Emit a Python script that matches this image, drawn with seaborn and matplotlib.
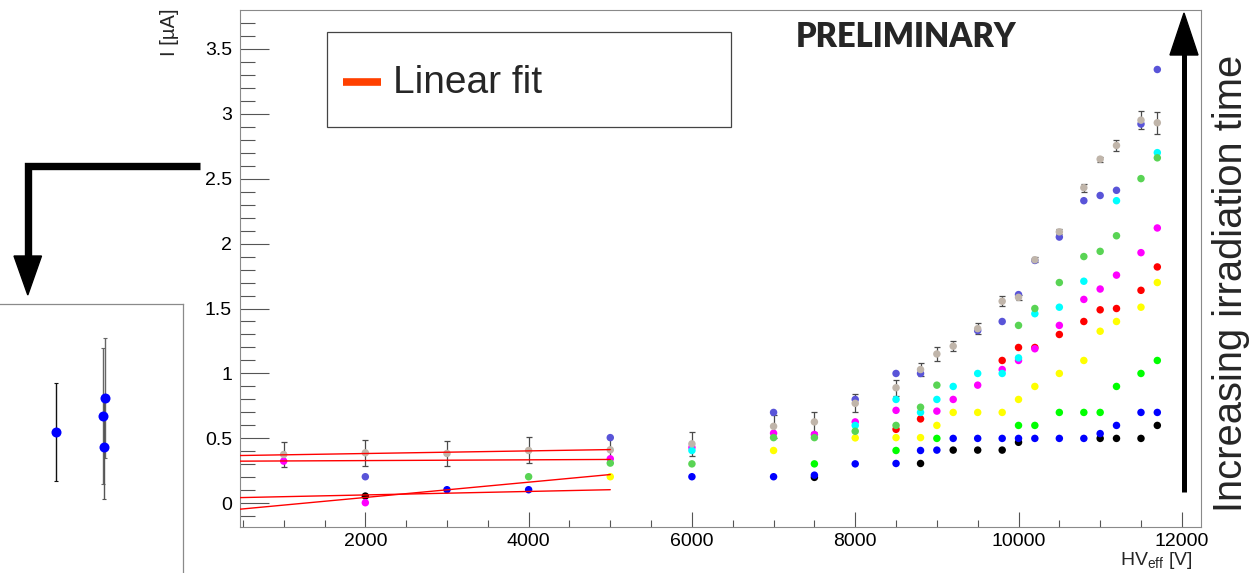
import numpy as np
import pandas as pd
import matplotlib
matplotlib.use("Agg")
import matplotlib.pyplot as plt
from matplotlib.lines import Line2D
from matplotlib.patches import Polygon, Rectangle
from matplotlib.ticker import MultipleLocator, FuncFormatter
import seaborn as sns

# ---------------- data: current vs effective HV for successive irradiation steps
hv_black = [2000, 7500, 8800, 9200, 9500, 9800, 10000, 11000, 11200, 11500, 11700]
i_black = [0.056, 0.20, 0.307, 0.41, 0.41, 0.41, 0.47, 0.50, 0.50, 0.50, 0.60]

hv_blue = [3000, 4000, 6000, 7000, 7500, 8000, 8500, 8800, 9000, 9200, 9500, 9800,
           10000, 10200, 10500, 10800, 11000, 11200, 11500, 11700]
i_blue = [0.105, 0.105, 0.205, 0.205, 0.217, 0.304, 0.307, 0.407, 0.41, 0.50, 0.50, 0.50,
          0.50, 0.50, 0.50, 0.50, 0.537, 0.60, 0.70, 0.70]

hv_green = [7500, 8500, 9000, 10000, 10200, 10500, 10800, 11000, 11200, 11500, 11700]
i_green = [0.304, 0.407, 0.50, 0.60, 0.60, 0.70, 0.70, 0.70, 0.90, 1.00, 1.10]

hv_yellow = [5000, 7000, 8000, 8500, 8800, 9000, 9200, 9500, 9800, 10000, 10200, 10500,
             10800, 11000, 11200, 11500, 11700]
i_yellow = [0.205, 0.407, 0.504, 0.506, 0.506, 0.60, 0.70, 0.70, 0.70, 0.80, 0.90, 1.00,
            1.10, 1.325, 1.40, 1.51, 1.70]

hv_red = [8500, 8800, 9800, 10000, 10200, 10500, 10800, 11000, 11200, 11500, 11700]
i_red = [0.57, 0.65, 1.10, 1.20, 1.20, 1.30, 1.40, 1.49, 1.50, 1.64, 1.82]

hv_magenta = [1000, 2000, 5000, 6000, 7000, 7500, 8000, 8500, 9000, 9200, 9500, 9800,
              10000, 10200, 10500, 10800, 11000, 11200, 11500, 11700]
i_magenta = [0.325, 0.005, 0.343, 0.43, 0.54, 0.53, 0.627, 0.716, 0.71, 0.80, 0.91, 1.03,
             1.10, 1.19, 1.37, 1.57, 1.65, 1.757, 1.93, 2.12]

hv_cyan = [6000, 8000, 8500, 8800, 9000, 9200, 9500, 9800, 10000, 10200, 10500, 10800,
           11200, 11700]
i_cyan = [0.407, 0.60, 0.80, 0.70, 0.80, 0.90, 1.00, 1.00, 1.12, 1.46, 1.51, 1.71,
          2.33, 2.70]

hv_lgreen = [4000, 5000, 6000, 7000, 7500, 8000, 8500, 8800, 9000, 10000, 10200, 10500,
             10800, 11000, 11200, 11500, 11700]
i_lgreen = [0.205, 0.31, 0.304, 0.506, 0.506, 0.555, 0.60, 0.74, 0.91, 1.37, 1.50, 1.70,
            1.90, 1.94, 2.06, 2.50, 2.66]

hv_slate = [2000, 5000, 7000, 8000, 8500, 8800, 9500, 9800, 10000, 10200, 10500, 10800,
            11000, 11200, 11500, 11700]
i_slate = [0.205, 0.506, 0.70, 0.80, 1.00, 1.00, 1.33, 1.40, 1.607, 1.87, 2.05, 2.33,
           2.37, 2.41, 2.92, 3.34]

hv_tan = [1000, 2000, 3000, 4000, 5000, 6000, 7000, 7500, 8000, 8500, 8800, 9000, 9200,
          9500, 9800, 10000, 10200, 10500, 10800, 11000, 11200, 11500, 11700]
i_tan = [0.376, 0.389, 0.384, 0.407, 0.412, 0.458, 0.593, 0.627, 0.77, 0.89, 1.03, 1.15, 1.21,
         1.345, 1.556, 1.586, 1.875, 2.09, 2.43, 2.65, 2.755, 2.95, 2.93]
err_tan = [0.096, 0.10, 0.093, 0.10, 0.10, 0.092, 0.09, 0.08, 0.07, 0.06, 0.047, 0.054, 0.04,
           0.045, 0.038, 0.02, 0.02, 0.02, 0.03, 0.02, 0.04, 0.07, 0.086]

step_names = ["step 1", "step 2", "step 3", "step 4", "step 5",
              "step 6", "step 7", "step 8", "step 9", "step 10"]
step_colors = ["#000000", "#0000ff", "#00ff00", "#ffff00", "#ff0000",
               "#ff00ff", "#00ffff", "#59d454", "#5954d8", "#c0b5aa"]
hv_lists = [hv_black, hv_blue, hv_green, hv_yellow, hv_red,
            hv_magenta, hv_cyan, hv_lgreen, hv_slate, hv_tan]
i_lists = [i_black, i_blue, i_green, i_yellow, i_red,
           i_magenta, i_cyan, i_lgreen, i_slate, i_tan]

# linear fits in the low-voltage region: I = p0 + p1 * HV
fit_p0 = [0.3635, 0.3235, -0.0722, 0.038]
fit_p1 = [1.01e-5, 2.9e-6, 5.88e-5, 1.342e-5]
fit_hv_max = 5000

# magnified view of a few low-current points
inset_hv = [3000, 4027, 3985, 4000]
inset_i = [0.105, 0.139, 0.121, 0.090]
inset_err = [0.049, 0.060, 0.068, 0.052]
inset_err_colors = ["#111111", "#666666", "#666666", "#555555"]

# ---------------- figure
sns.set_theme(style="white")
plt.rcParams['font.family'] = ['Liberation Sans', 'DejaVu Sans']
plt.rcParams['mathtext.fontset'] = 'custom'
plt.rcParams['mathtext.rm'] = 'Liberation Sans'
plt.rcParams['mathtext.it'] = 'Liberation Sans:italic'

W, H = 1251, 573
fig = plt.figure(figsize=(W / 100, H / 100), dpi=100)
fig.patch.set_facecolor("white")


def fx(px):
    return px / W


def fy(py):
    return 1 - py / H


ax = fig.add_axes([fx(240), fy(527), fx(1201) - fx(240), fy(10) - fy(527)])

frames = [pd.DataFrame({"hv": hv, "current": cur, "step": name})
          for name, hv, cur in zip(step_names, hv_lists, i_lists)]
df = pd.concat(frames, ignore_index=True)

ax.errorbar(hv_tan, i_tan, yerr=err_tan, fmt="none", ecolor="#4a4a4a",
            elinewidth=0.9, capsize=2, capthick=0.9, zorder=2)
sns.scatterplot(data=df, x="hv", y="current", hue="step", hue_order=step_names,
                palette=dict(zip(step_names, step_colors)), s=29, linewidth=0,
                legend=False, ax=ax, zorder=3)

x_lo, x_hi = 465, 12235
ax.set_xlim(x_lo, x_hi)
ax.set_ylim(-0.182, 3.798)

xs = np.array([x_lo, fit_hv_max], dtype=float)
for p0, p1 in zip(fit_p0, fit_p1):
    ax.plot(xs, p0 + p1 * xs, color="#ff0000", lw=1.0, zorder=4)

ax.set_xlabel("")
ax.set_ylabel("")
ax.xaxis.set_major_locator(MultipleLocator(2000))
ax.xaxis.set_minor_locator(MultipleLocator(500))
ax.yaxis.set_major_locator(MultipleLocator(0.5))
ax.yaxis.set_minor_locator(MultipleLocator(0.1))
ax.xaxis.set_major_formatter(FuncFormatter(lambda v, _: f"{v:.0f}"))
ax.yaxis.set_major_formatter(FuncFormatter(lambda v, _: f"{v:g}"))

tick_col = "#555555"
ax.tick_params(axis="y", which="major", direction="in", length=20.9, width=0.8,
               color=tick_col, labelsize=14, pad=5.8, left=True, right=False,
               labelcolor="black")
ax.tick_params(axis="y", which="minor", direction="in", length=10.8, width=0.8,
               color=tick_col, left=True, right=False)
ax.tick_params(axis="x", which="major", direction="in", length=10.8, width=0.8,
               color=tick_col, labelsize=14, pad=4.3, bottom=True, top=False,
               labelcolor="black")
ax.tick_params(axis="x", which="minor", direction="in", length=5.4, width=0.8,
               color=tick_col, bottom=True, top=False)
for sp in ax.spines.values():
    sp.set_color("#8a8a8a")
    sp.set_linewidth(0.8)

# axis titles
fig.text(fx(175), fy(8), "I [µA]", rotation=90, rotation_mode="anchor",
         ha="right", va="baseline", fontsize=14.5)
fig.text(fx(1193), fy(565), r"HV$_{\mathrm{eff}}$ [V]", ha="right", va="baseline",
         fontsize=14)

# legend box
fig.add_artist(Rectangle((fx(327.3), fy(127.3)), fx(730.7) - fx(327.3),
                         fy(31.7) - fy(127.3), transform=fig.transFigure,
                         fill=True, facecolor="white", edgecolor="#444444", lw=0.9))
fig.add_artist(Line2D([fx(342.7), fx(381)], [fy(81.5), fy(81.5)], color="#ff4000",
                      lw=5.5, solid_capstyle="butt", transform=fig.transFigure))
fig.text(fx(392.7), fy(93.3), "Linear fit", fontsize=28, ha="left", va="baseline")

fig.text(fx(796), fy(47.3), "PRELIMINARY", family=["Lato", "DejaVu Sans"],
         fontweight="heavy", fontsize=23.5, ha="left", va="baseline")

# vertical arrow on the right
fig.add_artist(Line2D([fx(1183.8), fx(1183.8)], [fy(492.3), fy(54)], color="black",
                      lw=3.6, solid_capstyle="butt", transform=fig.transFigure))
fig.add_artist(Polygon([(fx(1170), fy(55)), (fx(1198), fy(55)), (fx(1184), fy(13))],
                       closed=True, color="black", transform=fig.transFigure))
fig.text(fx(1242), fy(511.7), "Increasing irradiation time", rotation=90,
         rotation_mode="anchor", ha="left", va="baseline", fontsize=28.7)

# bent arrow pointing to the magnified view
fig.add_artist(Line2D([fx(200), fx(27.8), fx(27.8)], [fy(166.3), fy(166.3), fy(257)],
                      color="black", lw=5.3, solid_capstyle="butt",
                      solid_joinstyle="miter", transform=fig.transFigure))
fig.add_artist(Polygon([(fx(14), fy(256)), (fx(41.5), fy(256)), (fx(27.8), fy(295))],
                       closed=True, color="black", transform=fig.transFigure))

# magnified view
iax = fig.add_axes([fx(-6), fy(687.6), fx(183) - fx(-6), fy(304) - fy(687.6)])
iax.set_facecolor("white")
for hv, cur, err, col in zip(inset_hv, inset_i, inset_err, inset_err_colors):
    iax.errorbar([hv], [cur], yerr=[err], fmt="none", ecolor=col, elinewidth=1.0,
                 capsize=1.5, capthick=0.8, zorder=2)
sns.scatterplot(x=inset_hv, y=inset_i, color="#0000ff", s=52, linewidth=0,
                ax=iax, zorder=3, legend=False)
iax.set_xlim(1708.3, 5645.8)
iax.set_ylim(-0.1509, 0.2327)
iax.set_xticks([])
iax.set_yticks([])
iax.set_xlabel("")
iax.set_ylabel("")
for sp in iax.spines.values():
    sp.set_color("#8a8a8a")
    sp.set_linewidth(0.9)

fig.savefig("out.png", dpi=100, facecolor="white")
